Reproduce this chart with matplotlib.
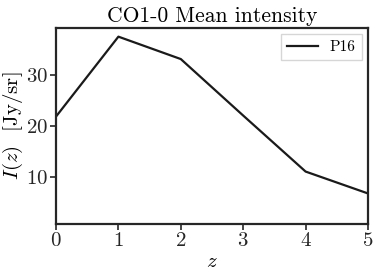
import matplotlib
matplotlib.use("Agg")
import matplotlib.pyplot as plt

z = [0, 1, 2, 3, 4, 5]
intensity = [21.8, 37.5, 33.1, 22.0, 11.0, 6.7]
xticks = [0, 1, 2, 3, 4, 5]
yticks = [10, 20, 30]

plt.rcParams['font.family'] = ['cmr10', 'DejaVu Sans']
plt.rcParams['mathtext.fontset'] = 'cm'
plt.rcParams['axes.formatter.use_mathtext'] = True

fig = plt.figure(figsize=(3.79, 2.77), dpi=100)
ax = fig.add_axes([56/379, 1-224/277, (368-56)/379, (224-28)/277])
ax.plot(z, intensity, color='#1a1a1a', lw=1.6, label='P16')
ax.set_xlim(0, 5)
ax.set_ylim(0.7, 39.2)
ax.set_xticks(xticks)
ax.set_yticks(yticks)
ax.tick_params(labelsize=15, length=4, width=1.2, color='#262626', labelcolor='#262626', pad=2)
for s in ax.spines.values():
    s.set_linewidth(1.6)
    s.set_color('#262626')
ax.set_title('CO1-0 Mean intensity', fontsize=15.5, pad=4)
ax.set_xlabel(r'$z$', fontsize=15, labelpad=2)
ax.set_ylabel(r'$\bar{I}(z)$  [Jy/sr]', fontsize=15)
ax.yaxis.set_label_coords(-0.10, 0.5)
leg = ax.legend(loc='upper right', fontsize=11, frameon=True, fancybox=False,
                borderaxespad=0.4)
leg.get_frame().set_edgecolor('#cccccc')
fig.savefig('out.png', dpi=100)
